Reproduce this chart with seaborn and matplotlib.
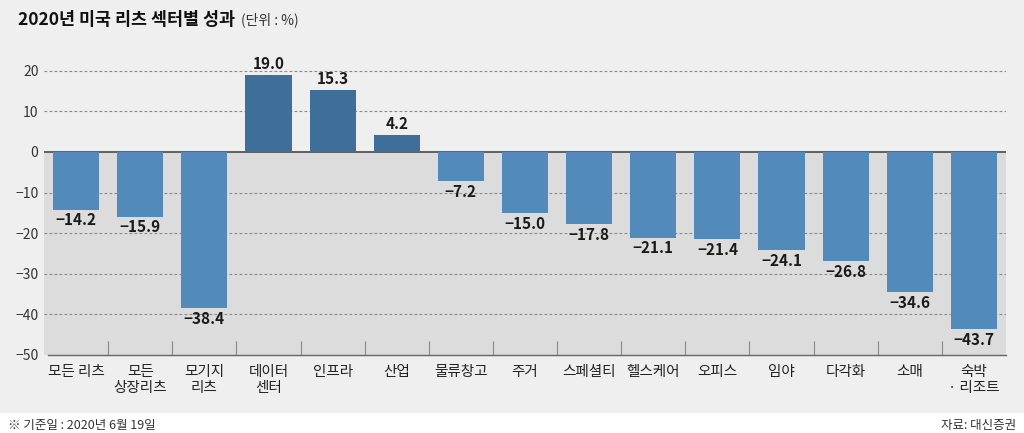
import matplotlib
matplotlib.use("Agg")
import matplotlib.pyplot as plt
import seaborn as sns
import pandas as pd
import numpy as np

categories = ["모든 리츠", "모든\n상장리츠", "모기지\n리츠", "데이터\n센터", "인프라", "산업",
              "물류창고", "주거", "스페셜티", "헬스케어", "오피스", "임야", "다각화", "소매",
              "숙박\n· 리조트"]
values = [-14.2, -15.9, -38.4, 19.0, 15.3, 4.2, -7.2, -15.0, -17.8, -21.1, -21.4,
          -24.1, -26.8, -34.6, -43.7]
yticks = [20, 10, 0, -10, -20, -30, -40, -50]
title = "2020년 미국 리츠 섹터별 성과"
unit = "(단위 : %)"
note = "※ 기준일 : 2020년 6월 19일"
source = "자료: 대신증권"

POS = "#3e6f9b"
NEG = "#528abb"
BG = "#efefef"
NEGBG = "#dcdcdc"

sns.set_style("white")
plt.rcParams['font.family'] = ['Noto Sans CJK KR', 'DejaVu Sans']
plt.rcParams['axes.unicode_minus'] = True

df = pd.DataFrame({"cat": categories, "val": values,
                   "sign": ["pos" if v >= 0 else "neg" for v in values]})

fig = plt.figure(figsize=(10.24, 4.33), dpi=100, facecolor=BG)
ax = fig.add_axes([44/1024, 1 - 355/433, (1006-44)/1024, (355-58.6)/433])
ax.set_facecolor("none")

sns.barplot(data=df, x="cat", y="val", hue="sign", palette={"pos": POS, "neg": NEG},
            dodge=False, width=0.72, legend=False, ax=ax, zorder=3, saturation=1,
            linewidth=0, edgecolor="none")

ax.set_xlim(-0.5, len(categories) - 0.5)
ax.set_ylim(-50, 23)
ax.axhspan(-50, 0, color=NEGBG, zorder=0, lw=0)

for y in yticks:
    if y not in (0, -50):
        ax.axhline(y, color="#8a8a8a", lw=0.8, ls=(0, (2.5, 2)), zorder=1)
ax.axhline(0, color="#555555", lw=1.3, zorder=2.5)

ax.set_yticks(yticks)
ax.set_yticklabels([str(t).replace("-", "−") for t in yticks])
ax.tick_params(axis="y", length=0, pad=4, labelsize=10, labelcolor="#333333")

ax.set_xticks(range(len(categories)))
ax.set_xticklabels(categories, fontsize=10.5, color="#222222", linespacing=1.25,
                   multialignment="center")
ax.tick_params(axis="x", length=0, pad=7)
ax.set_xticks(np.arange(0.5, len(categories) - 0.5, 1), minor=True)
ax.tick_params(axis="x", which="minor", direction="in", length=10, width=0.8,
               color="#888888", bottom=True)

for s in ["top", "right", "left"]:
    ax.spines[s].set_visible(False)
ax.spines["bottom"].set_color("#666666")
ax.spines["bottom"].set_linewidth(1.0)
ax.spines["bottom"].set_bounds(-0.44, len(categories) - 0.5)
ax.set_xlabel("")
ax.set_ylabel("")

for i, v in enumerate(values):
    txt = f"{v:.1f}".replace("-", "−")
    if v >= 0:
        ax.annotate(txt, (i, v), xytext=(0, 2), textcoords="offset points",
                    ha="center", va="bottom", fontsize=11, fontweight="bold",
                    color="#1a1a1a", zorder=5)
    else:
        ax.annotate(txt, (i, v), xytext=(0, -2), textcoords="offset points",
                    ha="center", va="top", fontsize=11, fontweight="bold",
                    color="#1a1a1a", zorder=5)

# footer band
fig.patches.append(plt.Rectangle((0, 0), 1, 20/433, transform=fig.transFigure,
                                 facecolor="white", edgecolor="none", zorder=0))

t = fig.text(18/1024, 1 - 20/433, title, fontsize=12.5, fontweight="bold",
             color="#111111", va="center", ha="left")
fig.canvas.draw()
fig.text(0, 0, "")
ax.annotate(unit, xy=(1, 0.5), xycoords=t, xytext=(4, 0), textcoords="offset points",
            fontsize=10, color="#333333", va="center", ha="left", annotation_clip=False)
fig.text(8/1024, 1 - 425/433, note, fontsize=9, color="#333333", va="center", ha="left")
fig.text(1016/1024, 1 - 425/433, source, fontsize=9, color="#333333",
         va="center", ha="right")

fig.savefig("out.png", dpi=100, facecolor=BG)
